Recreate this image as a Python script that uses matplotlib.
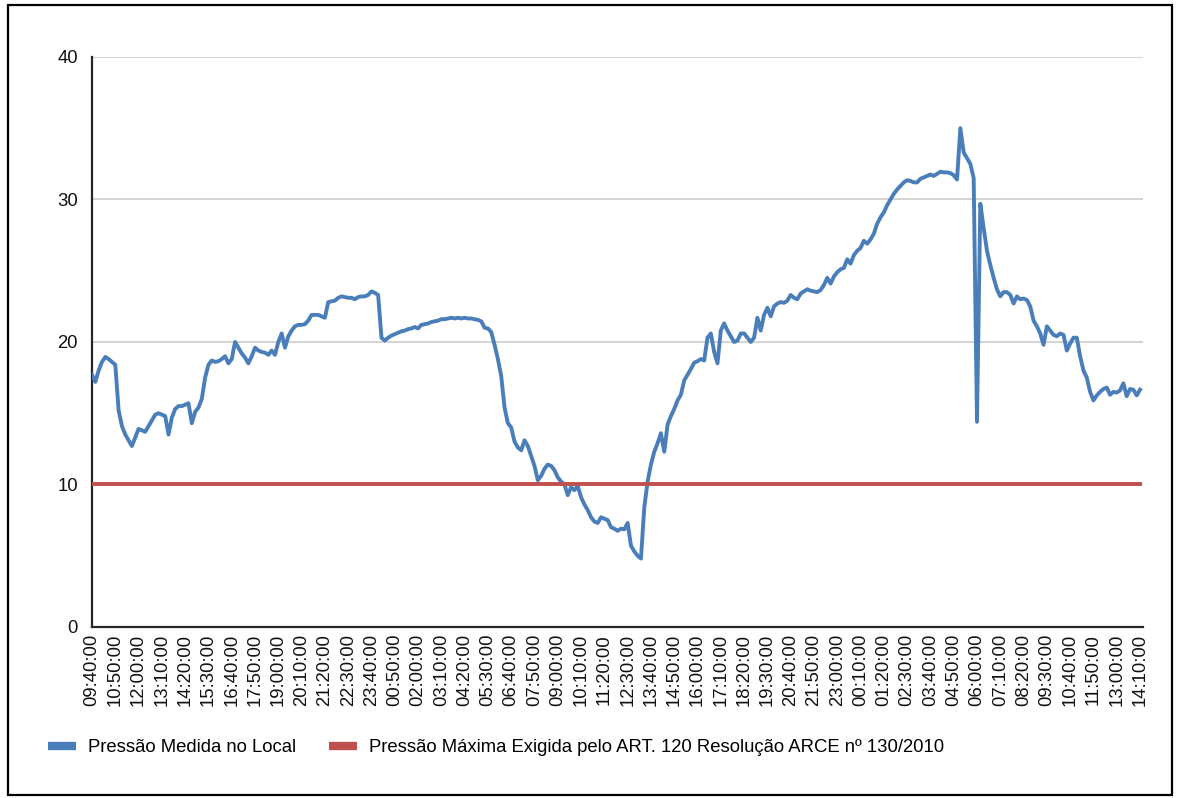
import numpy as np
import matplotlib
matplotlib.use("Agg")
import matplotlib.pyplot as plt
from matplotlib.lines import Line2D
from matplotlib.patches import Rectangle

plt.rcParams['font.family'] = ['Liberation Sans', 'DejaVu Sans']

# leituras a cada 10 min, de 09:40:00 (dia 1) ate 14:10:00 (dia 3)
pressao_medida = [
    17.7, 17.2, 18.0, 18.6, 18.95, 18.8, 18.6,
    18.4, 15.2, 14.1, 13.5, 13.1, 12.7, 13.3,
    13.9, 13.8, 13.7, 14.1, 14.5, 14.9, 15.0,
    14.9, 14.8, 13.5, 14.7, 15.3, 15.5, 15.5,
    15.6, 15.7, 14.3, 15.1, 15.4, 16.0, 17.5,
    18.4, 18.7, 18.6, 18.65, 18.8, 19.0, 18.5,
    18.8, 20.0, 19.6, 19.2, 18.9, 18.5, 19.0,
    19.6, 19.4, 19.3, 19.25, 19.1, 19.4, 19.1,
    20.0, 20.6, 19.6, 20.4, 20.8, 21.1, 21.2,
    21.2, 21.25, 21.5, 21.9, 21.9, 21.9, 21.8,
    21.7, 22.8, 22.85, 22.9, 23.1, 23.2, 23.15,
    23.1, 23.1, 23.0, 23.15, 23.2, 23.2, 23.3,
    23.55, 23.45, 23.3, 20.3, 20.1, 20.3, 20.45,
    20.55, 20.65, 20.75, 20.8, 20.9, 20.95, 21.05,
    20.95, 21.2, 21.25, 21.3, 21.4, 21.45, 21.5,
    21.6, 21.6, 21.65, 21.7, 21.65, 21.7, 21.65,
    21.7, 21.65, 21.65, 21.6, 21.55, 21.45, 21.0,
    20.95, 20.7, 19.8, 18.8, 17.6, 15.4, 14.3,
    14.0, 13.0, 12.6, 12.4, 13.1, 12.7, 12.0,
    11.3, 10.3, 10.6, 11.1, 11.4, 11.3, 11.0,
    10.5, 10.2, 10.0, 9.25, 9.8, 9.6, 9.9,
    9.1, 8.6, 8.2, 7.7, 7.4, 7.3, 7.7,
    7.6, 7.5, 7.0, 6.9, 6.75, 6.9, 6.85,
    7.3, 5.7, 5.3, 5.0, 4.8, 8.4, 10.2,
    11.4, 12.3, 12.9, 13.6, 12.3, 14.2, 14.8,
    15.3, 15.9, 16.3, 17.3, 17.7, 18.1, 18.55,
    18.65, 18.8, 18.7, 20.3, 20.6, 19.3, 18.5,
    20.8, 21.3, 20.8, 20.4, 20.0, 20.1, 20.6,
    20.6, 20.3, 20.0, 20.3, 21.7, 20.8, 21.9,
    22.4, 21.8, 22.5, 22.7, 22.8, 22.75, 22.9,
    23.3, 23.1, 23.0, 23.4, 23.55, 23.7, 23.6,
    23.55, 23.5, 23.65, 24.0, 24.5, 24.1, 24.6,
    24.9, 25.1, 25.2, 25.8, 25.5, 26.1, 26.4,
    26.6, 27.1, 26.9, 27.2, 27.6, 28.3, 28.75,
    29.1, 29.6, 30.0, 30.4, 30.7, 30.95, 31.2,
    31.35, 31.3, 31.2, 31.2, 31.45, 31.55, 31.65,
    31.75, 31.65, 31.8, 31.95, 31.9, 31.9, 31.85,
    31.7, 31.4, 35.0, 33.3, 32.9, 32.5, 31.5,
    14.4, 29.7, 28.0, 26.4, 25.4, 24.5, 23.7,
    23.2, 23.5, 23.5, 23.3, 22.7, 23.2, 23.0,
    23.05, 22.95, 22.5, 21.5, 21.1, 20.6, 19.8,
    21.1, 20.8, 20.5, 20.4, 20.6, 20.5, 19.4,
    19.9, 20.3, 20.3, 19.0, 18.0, 17.5, 16.5,
    15.9, 16.25, 16.5, 16.7, 16.8, 16.3, 16.5,
    16.45, 16.6, 17.1, 16.2, 16.7, 16.65, 16.25,
    16.65,
]
pressao_maxima = 10

rotulos_x = [
    "09:40:00", "10:50:00", "12:00:00", "13:10:00", "14:20:00", "15:30:00",
    "16:40:00", "17:50:00", "19:00:00", "20:10:00", "21:20:00", "22:30:00",
    "23:40:00", "00:50:00", "02:00:00", "03:10:00", "04:20:00", "05:30:00",
    "06:40:00", "07:50:00", "09:00:00", "10:10:00", "11:20:00", "12:30:00",
    "13:40:00", "14:50:00", "16:00:00", "17:10:00", "18:20:00", "19:30:00",
    "20:40:00", "21:50:00", "23:00:00", "00:10:00", "01:20:00", "02:30:00",
    "03:40:00", "04:50:00", "06:00:00", "07:10:00", "08:20:00", "09:30:00",
    "10:40:00", "11:50:00", "13:00:00", "14:10:00",
]
passo_rotulo = 7  # um rotulo a cada 70 min

nomes = ["Pressão Medida no Local",
         "Pressão Máxima Exigida pelo ART. 120 Resolução ARCE nº 130/2010"]
azul = '#4a7ebb'
vermelho = '#c0504d'

fig = plt.figure(figsize=(11.78, 7.98), dpi=100)
ax = fig.add_axes([0.0781, 0.2143, 0.8922, 0.7143])

x = np.arange(len(pressao_medida))
ax.plot(x, pressao_medida, color=azul, lw=2.8, solid_joinstyle='round', zorder=3)
ax.plot(x, np.full(len(x), pressao_maxima), color=vermelho, lw=2.8, zorder=4)

ax.set_ylim(0, 40)
ax.set_yticks([0, 10, 20, 30, 40])
ax.set_xlim(0, len(x) - 0.1)
ax.set_xticks(x[::passo_rotulo])
ax.set_xticklabels(rotulos_x, rotation=90)
ax.tick_params(axis='both', length=0, labelsize=13.3, colors='#111111')
ax.tick_params(axis='x', pad=5)
ax.tick_params(axis='y', pad=10)
ax.grid(axis='y', color='#d0d0d0', lw=1.3)
ax.set_axisbelow(True)
for s in ['top', 'right']:
    ax.spines[s].set_visible(False)
for s in ['left', 'bottom']:
    ax.spines[s].set_color('#262626')
    ax.spines[s].set_linewidth(1.6)

handles = [Line2D([], [], color=azul, lw=6, solid_capstyle='butt'),
           Line2D([], [], color=vermelho, lw=6, solid_capstyle='butt')]
fig.legend(handles, nomes, loc='center left', bbox_to_anchor=(0.041, 0.0627),
           ncol=2, frameon=False, fontsize=13.3, handlelength=1.5,
           handletextpad=0.65, columnspacing=1.8, borderpad=0, borderaxespad=0)

# moldura externa
fig.patches.append(Rectangle((8 / 1178, 1 - 795 / 798), 1164 / 1178, 790 / 798,
                             transform=fig.transFigure, fill=False,
                             edgecolor='black', lw=1.6))

fig.savefig('out.png', dpi=100)
